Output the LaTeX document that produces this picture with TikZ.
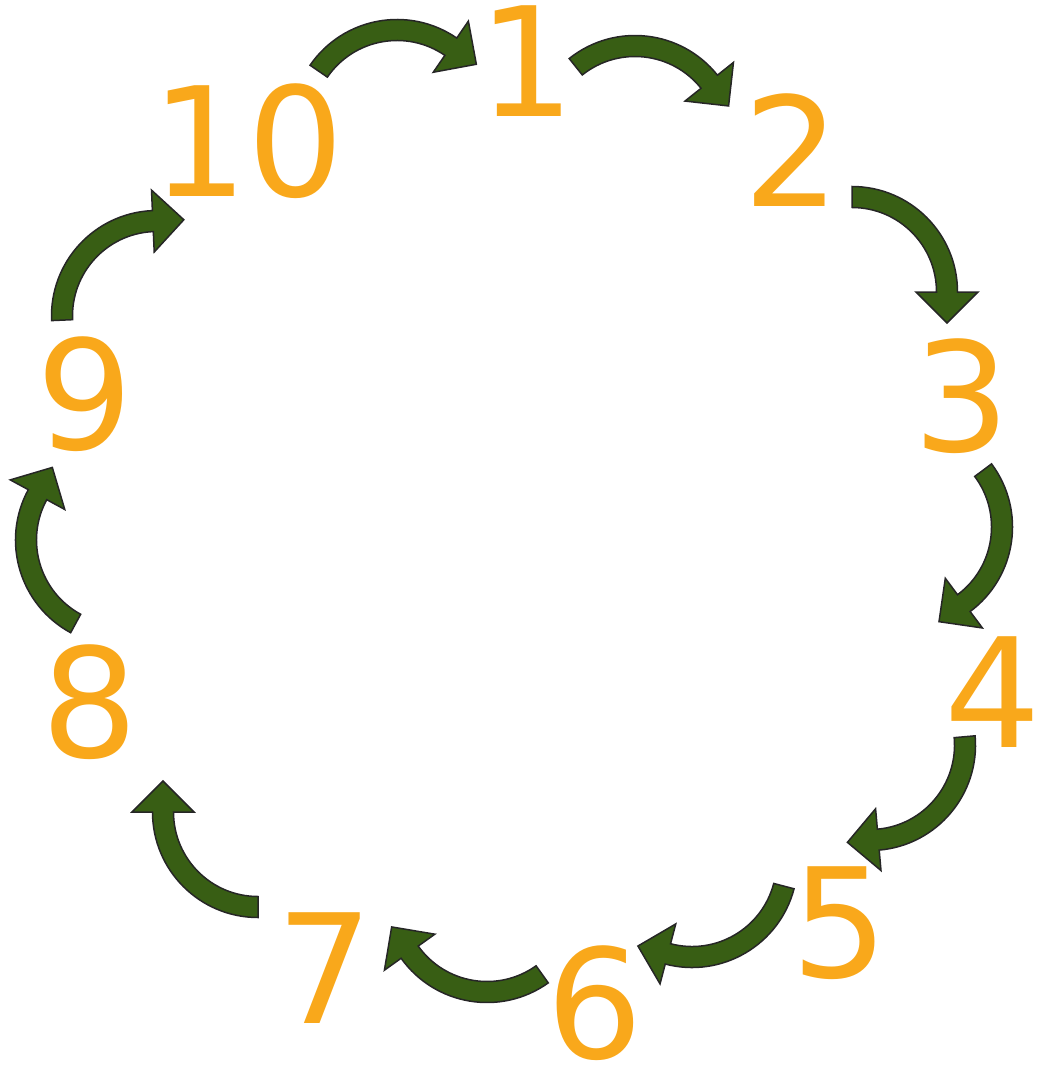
\documentclass[tikz,border=0pt]{standalone}
\usepackage{fontspec}
\setmainfont{DejaVu Sans}
\usepackage{tikz}
\usetikzlibrary{calc}
\definecolor{numorange}{RGB}{249,168,27}
\definecolor{arrowgreen}{RGB}{56,94,20}

% curved block arrow, clockwise quarter turn: #1 centre, #2 tail angle
\newcommand{\bentarrow}[2]{%
  \pgfmathsetmacro{\ea}{#2-90}
  \filldraw[arrowbody] ($(#1)+(#2:105.5)$) arc[start angle=#2, end angle=\ea, radius=105.5]
    -- ($(#1)+(\ea:126)$) -- ($(#1)+(\ea:95)+(\ea-90:31)$)
    -- ($(#1)+(\ea:64)$) -- ($(#1)+(\ea:84.5)$)
    arc[start angle=\ea, end angle=#2, radius=84.5] -- cycle;}

\begin{document}
\begin{tikzpicture}[x=1pt, y=1pt,
  digit/.style={text=numorange, font=\fontsize{152}{152}\selectfont, inner sep=0pt, anchor=base},
  arrowbody/.style={fill=arrowgreen, draw=black!85, line width=1.5pt, line join=miter}]
  \useasboundingbox (0,0) rectangle (1046,-1067);
  \node[digit] (n1) at (527,-117) {1};
  \node[digit] (n2) at (792,-207) {2};
  \node[digit] (n3) at (962,-451) {3};
  \node[digit] (n4) at (993,-747) {4};
  \node[digit] (n5) at (840,-977) {5};
  \node[digit] (n6) at (595,-1058) {6};
  \node[digit] (n7) at (325,-1023) {7};
  \node[digit] (n8) at (90,-757) {8};
  \node[digit] (n9) at (85,-449) {9};
  \node[digit] (n10) at (248,-197) {10};
  % arrow centres
  \coordinate (c1) at (397,-125);
  \coordinate (c2) at (635,-141);
  \coordinate (c3) at (852,-292);
  \coordinate (c4) at (907,-527);
  \coordinate (c5) at (870,-745);
  \coordinate (c6) at (692,-862);
  \coordinate (c7) at (487,-897);
  \coordinate (c8) at (258,-812);
  \coordinate (c9) at (121,-540);
  \coordinate (c10) at (157,-316);
  \foreach \c/\t in {c1/145.5, c2/128.6, c3/90, c4/36.75, c5/5,
                     c6/-14.7, c7/-54.5, c8/270, c9/241.5, c10/182.5}
    \bentarrow{\c}{\t};
\end{tikzpicture}
\end{document}
